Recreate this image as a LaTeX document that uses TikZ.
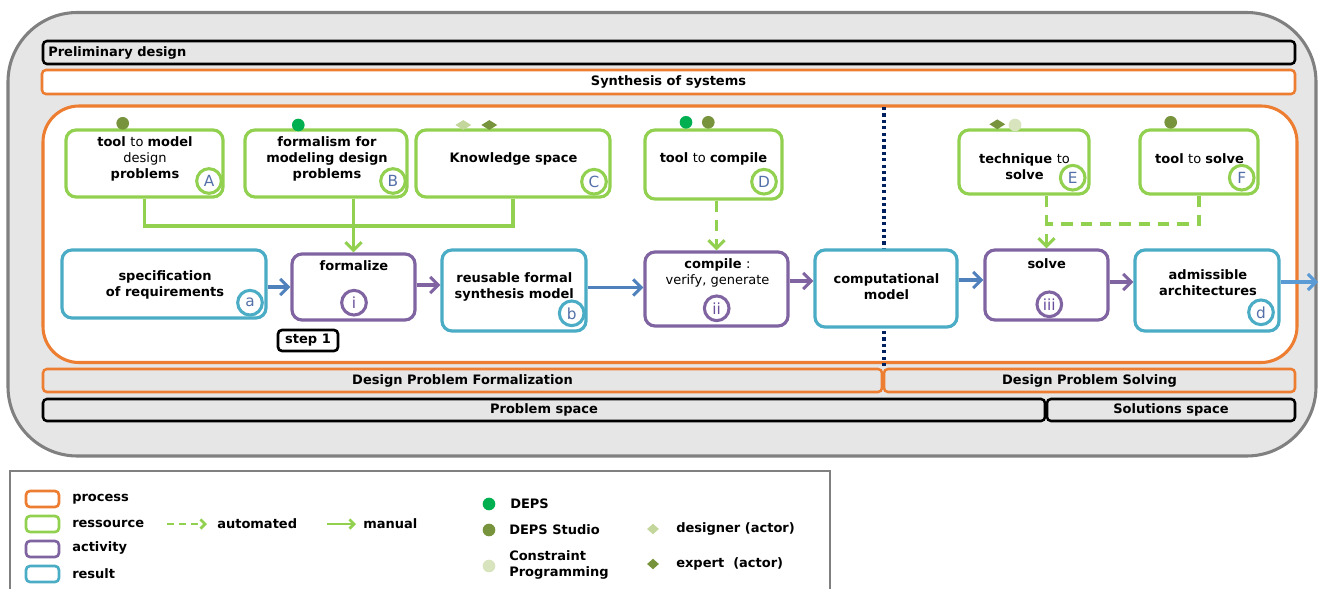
\documentclass[tikz,border=0pt]{standalone}
\usepackage{fontspec}
\setmainfont{DejaVu Sans}
\usetikzlibrary{arrows.meta,shapes.geometric}
\definecolor{cgreen}{HTML}{92D050}
\definecolor{cblue}{HTML}{4BACC6}
\definecolor{cpurple}{HTML}{8064A2}
\definecolor{cptext}{HTML}{6A4E9C}
\definecolor{corange}{HTML}{ED7D31}
\definecolor{carrow}{HTML}{4F81BD}
\definecolor{cout}{HTML}{5B9BD5}
\definecolor{cletter}{HTML}{5470A8}
\definecolor{cnavy}{HTML}{002060}
\definecolor{cdeps}{HTML}{00B050}
\definecolor{colive}{HTML}{77933C}
\definecolor{clight}{HTML}{C3D69B}
\definecolor{clightdot}{HTML}{D7E4BD}
\definecolor{cbg}{HTML}{E6E6E6}
\definecolor{cframe}{HTML}{808080}
\newcommand\fsz{\fontsize{9.75}{12}\selectfont}
\tikzset{
  res/.style={draw=cgreen,line width=2.4pt,rounded corners=7.5pt,fill=white,inner sep=0pt},
  rsl/.style={draw=cblue,line width=2.4pt,rounded corners=7.5pt,fill=white,inner sep=0pt},
  act/.style={draw=cpurple,line width=2.4pt,rounded corners=7.5pt,fill=white,inner sep=0pt},
  lbl/.style={align=center,inner sep=0pt,font=\fsz\bfseries},
  badge/.style={circle,draw=#1,line width=2.3pt,fill=white,minimum size=18.5pt,inner sep=0pt,text=cletter,font=\fontsize{11.5}{11.5}\selectfont},
  bar/.style={draw=#1,line width=1.9pt,rounded corners=3pt,inner sep=0pt,font=\fsz\bfseries},
  flow/.style={line width=2.3pt,-{Straight Barb[length=6pt,width=12pt]}},
  man/.style={draw=cgreen,line width=2.3pt},
  autom/.style={draw=cgreen,line width=2.3pt,dash pattern=on 8.5pt off 6pt},
  mdot/.style={circle,fill=#1,minimum size=9.5pt,inner sep=0pt},
  mdia/.style={diamond,fill=#1,minimum width=12pt,minimum height=7.5pt,inner sep=0pt},
  legbox/.style={draw=#1,line width=2pt,rounded corners=3pt,minimum width=24.75pt,minimum height=12pt,inner sep=0pt},
  legtxt/.style={anchor=west,inner sep=0pt,font=\fsz\bfseries,align=left},
}
\begin{document}
\begin{tikzpicture}[x=0.75pt,y=-0.75pt]
\useasboundingbox (0,0) rectangle (1322,589);
% outer frame
\draw[draw=cframe,fill=cbg,line width=2.3pt,rounded corners=52pt] (8,12.5) rectangle (1316,456);
% top bars
\node[bar=black,minimum width=939pt,minimum height=17.25pt] (prelim) at (669,52.5) {};
\node[legtxt] (prelimT) at (48,52.5) {Preliminary design};
\node[bar=corange,fill=white,minimum width=939.75pt,minimum height=18pt] (synth) at (668.5,82) {Synthesis of systems};
% inner process frame
\draw[draw=corange,fill=white,line width=2.3pt,rounded corners=27pt] (43,106) rectangle (1297,362.5);
% dotted separator
\draw[cnavy,line width=2.5pt,dash pattern=on 2.4pt off 2.4pt] (884,107) -- (884,368);
% bottom bars
\node[bar=corange,minimum width=629.25pt,minimum height=17.25pt] (dpf) at (462.5,380.5) {Design Problem Formalization};
\node[bar=corange,minimum width=308.25pt,minimum height=17.25pt] (dps) at (1089.5,380.5) {Design Problem Solving};
\node[bar=black,minimum width=751.5pt,minimum height=16.5pt] (ps) at (544,410) {Problem space};
\node[bar=black,minimum width=186pt,minimum height=16.5pt] (ss) at (1171,410) {Solutions space};
% resources
\node[res,minimum width=117.75pt,minimum height=50.25pt] (A) at (144.5,163.5) {};
\node[res,minimum width=121.5pt,minimum height=50.25pt] (B) at (326,163.5) {};
\node[res,minimum width=145.5pt,minimum height=50.25pt] (C) at (513,163.5) {};
\node[res,minimum width=102.75pt,minimum height=51.75pt] (D) at (713.5,164.5) {};
\node[res,minimum width=97.5pt,minimum height=48pt] (E) at (1024,162) {};
\node[res,minimum width=88.5pt,minimum height=48pt] (F) at (1199,162) {};
% results and activities
\node[rsl,minimum width=153pt,minimum height=51pt] (a) at (164,284) {};
\node[act,minimum width=92.25pt,minimum height=49.5pt] (i) at (353.5,287) {};
\node[rsl,minimum width=108pt,minimum height=60.75pt] (b) at (514,290.5) {};
\node[act,minimum width=107.25pt,minimum height=55.5pt] (ii) at (716.5,289) {};
\node[rsl,minimum width=106.5pt,minimum height=57.75pt] (comp) at (886,288.5) {};
\node[act,minimum width=92.25pt,minimum height=52.5pt] (iii) at (1046.5,285) {};
\node[rsl,minimum width=108pt,minimum height=60.75pt] (d) at (1207,290.5) {};
% texts
\node[lbl] (tA) at (145,159) {tool \mdseries to \bfseries model\\\mdseries design\\problems};
\node[lbl] (tB) at (327,159) {formalism for\\modeling design\\problems};
\node[lbl] (tC) at (513.5,159) {Knowledge space};
\node[lbl] (tD) at (713.5,159) {tool \mdseries to \bfseries compile};
\node[lbl] (tE) at (1024.5,167) {technique \mdseries to\\\bfseries solve};
\node[lbl] (tF) at (1199.5,159) {tool \mdseries to \bfseries solve};
\node[lbl] (ta) at (165,284.5) {specification\\of requirements};
\node[lbl] (ti) at (354,266) {formalize};
\node[lbl] (tb) at (514.3,287) {reusable formal\\synthesis model};
\node[lbl] (tii) at (717.5,272.5) {compile \mdseries :\\\mdseries verify, generate};
\node[lbl] (tcomp) at (886.5,287) {computational\\model};
\node[lbl] (tiii) at (1046.7,263.3) {solve};
\node[lbl] (td) at (1208,282.7) {admissible\\architectures};
% badges
\node[badge=cgreen] (cA) at (209,181) {A};
\node[badge=cgreen] (cB) at (393,181) {B};
\node[badge=cgreen] (cC) at (594,181.7) {C};
\node[badge=cgreen] (cD) at (764,181.7) {D};
\node[badge=cgreen] (cE) at (1072.7,177.7) {E};
\node[badge=cgreen] (cF) at (1241.7,177.7) {F};
\node[badge=cblue] (ca) at (250,302.7) {a};
\node[badge=cpurple,text=cptext] (ci) at (354,302.7) {i};
\node[badge=cblue] (cb) at (571.7,313.3) {b};
\node[badge=cpurple,text=cptext] (cii) at (716.7,308.3) {ii};
\node[badge=cpurple,text=cptext] (ciii) at (1049.3,304.3) {iii};
\node[badge=cblue] (cd) at (1261,312.3) {d};
% step 1
\node[bar=black,fill=white,line width=2pt,minimum width=45pt,minimum height=15.75pt] (step1) at (308,340.5) {step 1};
% markers
\node[mdot=colive] (mA) at (122.7,123.3) {};
\node[mdot=cdeps] (mB) at (298.3,125) {};
\node[mdia=clight] (mC1) at (463.3,125) {};
\node[mdia=colive] (mC2) at (489.3,125) {};
\node[mdot=cdeps] (mD1) at (686,122.3) {};
\node[mdot=colive] (mD2) at (708.3,122.3) {};
\node[mdia=colive] (mE1) at (997.3,124.3) {};
\node[mdot=clightdot] (mE2) at (1015,125) {};
\node[mdot=colive] (mF) at (1170.7,122.3) {};
% green connectors
\draw[man] (A.south) -- (A.south |- 0,226) -| (C.south);
\draw[man,flow,cgreen] (i.north |- B.south) -- (i.north);
\draw[autom,flow,cgreen] (ii.north |- D.south) -- (ii.north);
\draw[autom,flow,cgreen] (iii.north |- E.south) -- (iii.north);
\draw[autom] (F.south) -- (F.south |- 0,224) -- (iii.north |- 0,224);
% flow arrows
\draw[flow,carrow] (a.east |- 0,287) -- (i.west |- 0,287);
\draw[flow,cpurple] (i.east |- 0,285) -- (b.west |- 0,285);
\draw[flow,carrow] (b.east |- 0,287.5) -- (ii.west |- 0,287.5);
\draw[flow,cpurple] (ii.east |- 0,281) -- (comp.west |- 0,281);
\draw[flow,carrow] (comp.east |- 0,280) -- (iii.west |- 0,280);
\draw[flow,cpurple] (iii.east |- 0,282) -- (d.west |- 0,282);
\coordinate (out) at (1318,282);
\draw[flow,cout] (d.east |- out) -- (out);
% legend
\draw[cframe,line width=0.8pt] (10,595) -- (10,471) -- (830,471) -- (830,595);
\node[legbox=corange] (lp) at (42.5,499) {};
\node[legtxt] (lpT) at (72,499) {process};
\node[legbox=cgreen] (lr) at (42.5,524) {};
\node[legtxt] (lrT) at (72,524) {ressource};
\node[legbox=cpurple] (lac) at (42.5,549) {};
\node[legtxt] (lacT) at (72,548) {activity};
\node[legbox=cblue] (lre) at (42.5,574) {};
\node[legtxt] (lreT) at (72,574) {result};
\coordinate (la1) at (167,524);
\coordinate (la2) at (207,524);
\draw[cgreen,line width=2pt,dash pattern=on 5pt off 4pt,-{Straight Barb[length=3.5pt,width=7pt]}] (la1) -- (la2);
\node[legtxt] (laT) at (217,524) {automated};
\coordinate (lm1) at (327,524);
\coordinate (lm2) at (356,524);
\draw[cgreen,line width=2pt,-{Straight Barb[length=3.5pt,width=7pt]}] (lm1) -- (lm2);
\node[legtxt] (lmT) at (363,524) {manual};
\node[mdot=cdeps] (ld1) at (489,504) {};
\node[legtxt] (ld1T) at (510,504) {DEPS};
\node[mdot=colive] (ld2) at (489,530) {};
\node[legtxt] (ld2T) at (509,530) {DEPS Studio};
\node[mdot=clightdot] (ld3) at (489,566) {};
\node[legtxt] (ld3T) at (509,565) {Constraint\\Programming};
\node[mdia=clight,minimum width=9pt,minimum height=8pt] (ld4) at (653,529) {};
\node[legtxt] (ld4T) at (676,529) {designer (actor)};
\node[mdia=colive,minimum width=9pt,minimum height=8pt] (ld5) at (653,564) {};
\node[legtxt] (ld5T) at (676,564) {expert~ (actor)};
\end{tikzpicture}
\end{document}
